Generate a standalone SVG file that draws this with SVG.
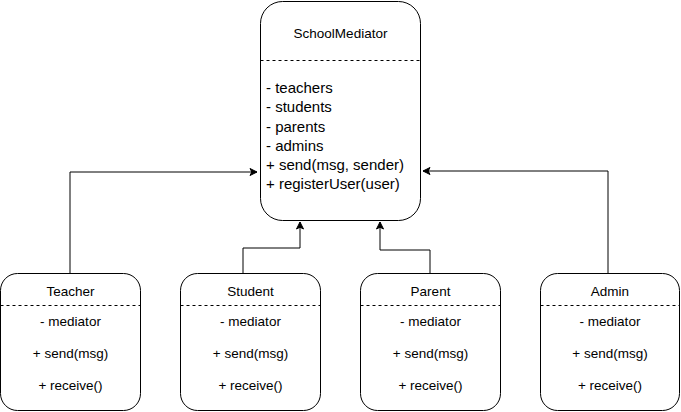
<svg xmlns="http://www.w3.org/2000/svg" width="681" height="412" viewBox="0 0 681 412">
<style>
.box{fill:#fff;stroke:#000;stroke-width:1}
.dash{stroke:#000;stroke-width:1;stroke-dasharray:3,3;fill:none}
.t{font-family:"Liberation Sans",Arial,sans-serif;fill:#000}
.c{font-size:13.5px;text-anchor:middle}
.m{font-size:15px}
.conn{fill:none;stroke:#000;stroke-width:1}
</style>
<defs>
<marker id="arr" markerWidth="10" markerHeight="10" refX="8" refY="5" orient="auto" markerUnits="userSpaceOnUse">
<path d="M1,1.5 L8,5 L1,8.5 L2.8,5 Z" fill="#000" stroke="#000" stroke-width="1"/>
</marker>
</defs>
<rect width="681" height="412" fill="#fff"/>
<g id="connectors">
<path class="conn" d="M70,273 V172 H257" marker-end="url(#arr)"/>
<path class="conn" d="M243,273 V248 H300 V222" marker-end="url(#arr)"/>
<path class="conn" d="M430,273 V250 H380 V222" marker-end="url(#arr)"/>
<path class="conn" d="M608,273 V171 H423" marker-end="url(#arr)"/>
</g>
<g id="SchoolMediator">
<rect class="box" x="260.5" y="1.5" width="160" height="219" rx="22" ry="22"/>
<line class="dash" x1="260.5" y1="60.5" x2="420.5" y2="60.5"/>
<text class="t c" x="340.5" y="38">SchoolMediator</text>
<text class="t m" x="266" y="93">- teachers</text>
<text class="t m" x="266" y="112">- students</text>
<text class="t m" x="266" y="132">- parents</text>
<text class="t m" x="266" y="151">- admins</text>
<text class="t m" x="266" y="170">+ send(msg, sender)</text>
<text class="t m" x="266" y="189">+ registerUser(user)</text>
</g>
<g id="Teacher">
<rect class="box" x="0.5" y="273.5" width="140" height="137" rx="17" ry="17"/>
<line class="dash" x1="0.5" y1="305.5" x2="140.5" y2="305.5"/>
<text class="t c" x="70.5" y="296">Teacher</text>
<text class="t c" x="70.5" y="326">- mediator</text>
<text class="t c" x="70.5" y="358">+ send(msg)</text>
<text class="t c" x="70.5" y="390">+ receive()</text>
</g>
<g id="Student">
<rect class="box" x="180.5" y="273.5" width="140" height="137" rx="17" ry="17"/>
<line class="dash" x1="180.5" y1="305.5" x2="320.5" y2="305.5"/>
<text class="t c" x="250.5" y="296">Student</text>
<text class="t c" x="250.5" y="326">- mediator</text>
<text class="t c" x="250.5" y="358">+ send(msg)</text>
<text class="t c" x="250.5" y="390">+ receive()</text>
</g>
<g id="Parent">
<rect class="box" x="360.5" y="273.5" width="140" height="137" rx="17" ry="17"/>
<line class="dash" x1="360.5" y1="305.5" x2="500.5" y2="305.5"/>
<text class="t c" x="430.5" y="296">Parent</text>
<text class="t c" x="430.5" y="326">- mediator</text>
<text class="t c" x="430.5" y="358">+ send(msg)</text>
<text class="t c" x="430.5" y="390">+ receive()</text>
</g>
<g id="Admin">
<rect class="box" x="540.5" y="273.5" width="139" height="137" rx="17" ry="17"/>
<line class="dash" x1="540.5" y1="305.5" x2="679.5" y2="305.5"/>
<text class="t c" x="610" y="296">Admin</text>
<text class="t c" x="610" y="326">- mediator</text>
<text class="t c" x="610" y="358">+ send(msg)</text>
<text class="t c" x="610" y="390">+ receive()</text>
</g>
</svg>
